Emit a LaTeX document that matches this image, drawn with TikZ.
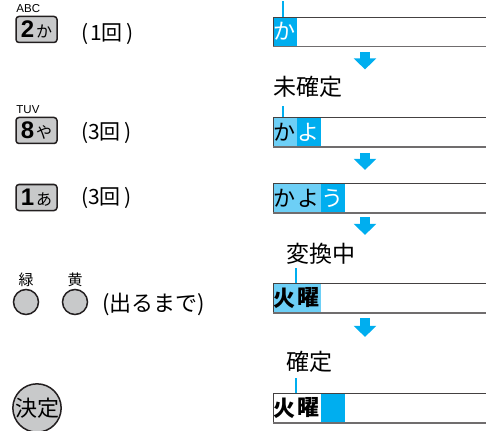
\documentclass[tikz,border=0pt]{standalone}
\usepackage{fontspec}
\setmainfont{Noto Sans CJK JP}
\newfontfamily\keyfont{Liberation Sans}
\usepackage{tikz}
\usetikzlibrary{positioning,arrows.meta,backgrounds}
\definecolor{cursor}{HTML}{00AEEF}
\definecolor{pending}{HTML}{6DCFF6}
\definecolor{keygray}{HTML}{C8C9CA}
\definecolor{ink}{HTML}{231F20}
\newcommand{\keylabel}[2]{{\keyfont\bfseries\fontsize{24}{24}\selectfont #1}\hspace{2pt}{\fontsize{16}{16}\selectfont #2}}

\begin{document}
\begin{tikzpicture}[
    x=1pt, y=-1pt,
    node distance=0pt,
    key/.style={draw=ink, line width=1.5pt, fill=keygray, rounded corners=3pt, minimum width=41pt, minimum height=26pt, inner sep=0pt},
    btn/.style={circle, draw=ink, line width=1.5pt, fill=keygray, minimum size=25pt, inner sep=0pt},
    tag/.style={font=\keyfont\fontsize{11.5}{11.5}\selectfont, inner sep=0pt, anchor=south west},
    colortag/.style={font=\fontsize{15}{15}\selectfont, inner sep=0pt},
    note/.style={font=\fontsize{21}{21}\selectfont, inner sep=0pt},
    field/.style={draw=ink!85, line width=0.8pt, minimum width=240pt, minimum height=29pt, inner sep=0pt, anchor=west},
    cell/.style={minimum width=23.5pt, minimum height=28.2pt, inner sep=0pt, font=\fontsize{22}{22}\selectfont},
    cur/.style={cell, fill=cursor, text=white},
    conv/.style={cell, fill=pending},
    state/.style={font=\fontsize{23}{23}\selectfont, inner sep=0pt, anchor=west},
    tick/.style={cursor, line width=2pt},
    flow/.style={cursor, line width=10pt, -{Triangle[length=11pt, width=22pt]}},
  ]
    \clip (0,0) rectangle (486,430);
    % keys on the left
    \node[key] (k2) at (36.5,29.5) {\keylabel{2}{か}};
    \node[tag] (abc) at ([xshift=1pt,yshift=3pt]k2.north west) {ABC};
    \node[note, anchor=west] (n2) at (81,34) {(\hspace{2pt}1回\hspace{4pt})};
    \node[key] (k8) at (36.5,130.5) {\keylabel{8}{や}};
    \node[tag] (tuv) at ([xshift=1pt,yshift=3pt]k8.north west) {TUV};
    \node[note, anchor=west] (n8) at (81,133) {(3回\hspace{4pt})};
    \node[key] (k1) at (36.5,197.5) {\keylabel{1}{あ}};
    \node[note, anchor=west] (n1) at (81,198) {(3回\hspace{4pt})};
    \node[btn] (green) at (26,302) {};
    \node[colortag, above=2pt of green] (gtag) {緑};
    \node[btn] (yellow) at (75,302) {};
    \node[colortag, above=2pt of yellow] (ytag) {黄};
    \node[note, anchor=west, font=\fontsize{22}{22}\selectfont] (nc) at (102,304) {(出るまで)};
    \node[btn, minimum size=47pt, font=\fontsize{22}{22}\selectfont] (ok) at (37,408) {決定};
    % input fields on the right
    \node[field] (b1) at (273,31.5) {};
    \node[field] (b2) at (273,132) {};
    \node[field] (b3) at (273,198) {};
    \node[field] (b4) at (273,298) {};
    \node[field] (b5) at (273,408) {};
    \begin{scope}[on background layer]
      \node[cur, anchor=west] (c11) at (b1.west) {か};
      \node[conv, anchor=west] (c21) at (b2.west) {か};
      \node[cur, right=of c21] (c22) {よ};
      \node[conv, anchor=west] (c31) at (b3.west) {か};
      \node[conv, right=of c31] (c32) {よ};
      \node[cur, right=of c32] (c33) {う};
      \node[conv, anchor=west, font=\bfseries\fontsize{22}{22}\selectfont] (c41) at (b4.west) {火};
      \node[conv, right=of c41, font=\bfseries\fontsize{22}{22}\selectfont] (c42) {曜};
      \node[cell, anchor=west, font=\bfseries\fontsize{22}{22}\selectfont] (c51) at (b5.west) {火};
      \node[cell, right=of c51, font=\bfseries\fontsize{22}{22}\selectfont] (c52) {曜};
      \node[cur, right=of c52] (c53) {};
    \end{scope}
    \foreach \b in {b1,b2,b3,b4,b5} \draw[line width=1.5pt, ink!65] (\b.south west) -- (\b.south east);
    \node[state] (s2) at (273,87) {未確定};
    \node[state] (s4) at (286,254) {変換中};
    \node[state] (s5) at (286,362) {確定};
    \draw[tick] ([xshift=10pt]b1.north west) -- ++(0,-16);
    \draw[tick] ([xshift=10pt]b2.north west) -- ++(0,-11);
    \draw[tick] ([xshift=23pt]b4.north west) -- ++(0,-15);
    \draw[tick] ([xshift=23pt]b5.north west) -- ++(0,-15);
    \draw[flow] ([xshift=92pt,yshift=-6pt]b1.south west) -- ++(0,17);
    \draw[flow] ([xshift=92pt,yshift=-6pt]b2.south west) -- ++(0,17);
    \draw[flow] ([xshift=92pt,yshift=-4pt]b3.south west) -- ++(0,18);
    \draw[flow] ([xshift=92pt,yshift=-5pt]b4.south west) -- ++(0,19);
  \end{tikzpicture}
\end{document}
